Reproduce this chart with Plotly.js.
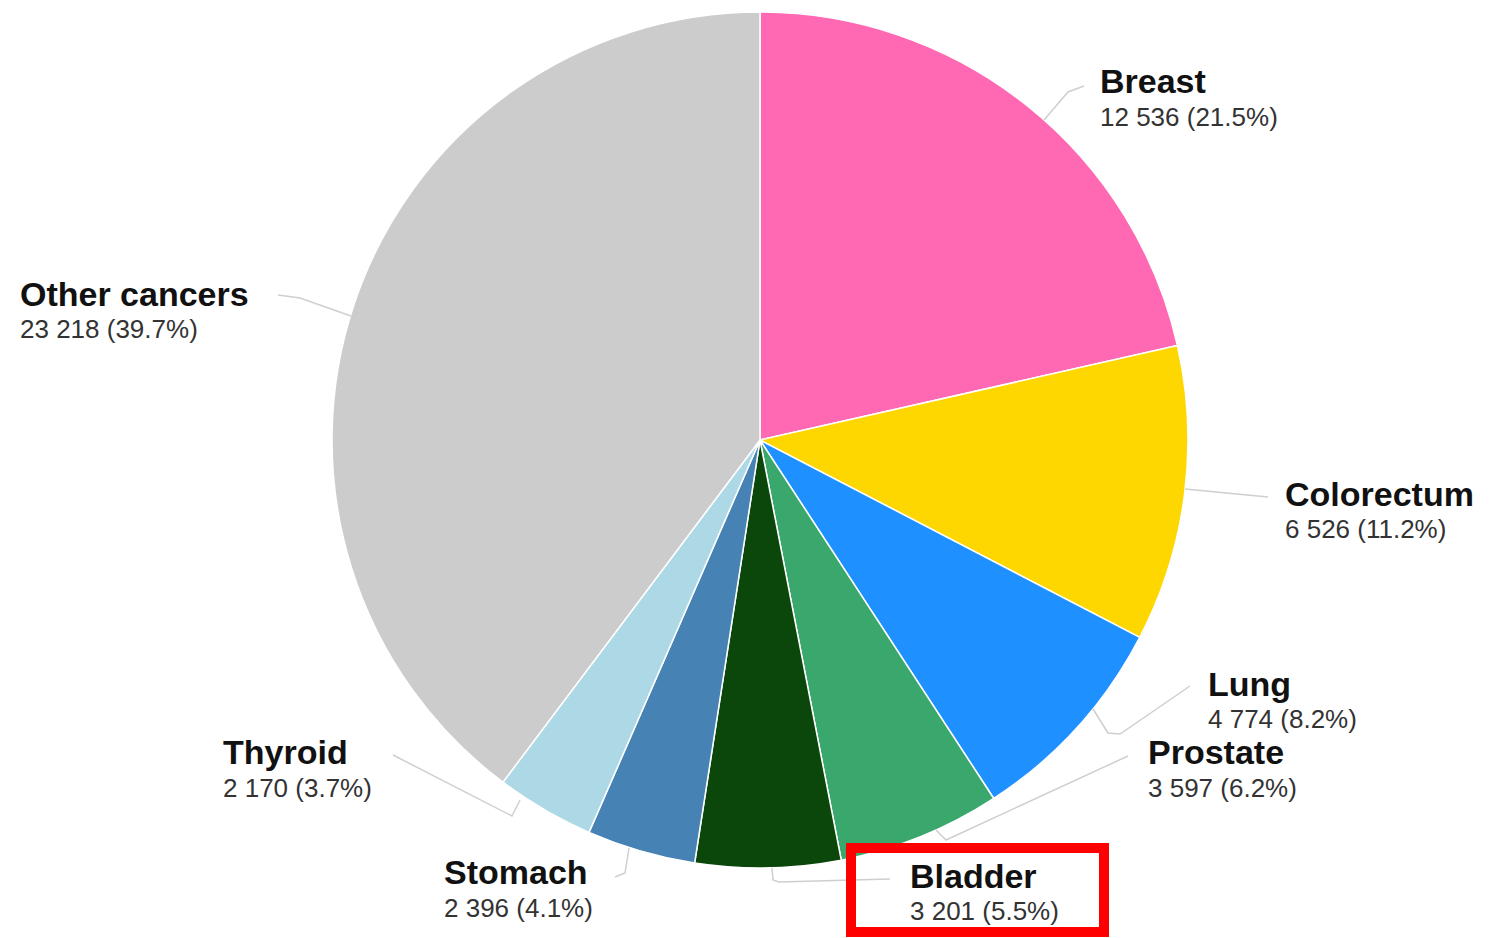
<!DOCTYPE html>
<html>
<head>
<meta charset="utf-8">
<script src="https://cdn.plot.ly/plotly-3.0.1.min.js"></script>
<style>html,body{margin:0;padding:0;background:#fff;}#chart{width:1491px;height:938px;}</style>
</head>
<body>
<div id="chart"></div>
<script>
const categories = ["Breast", "Colorectum", "Lung", "Prostate", "Bladder", "Stomach", "Thyroid", "Other cancers"];
const cases = [12536, 6526, 4774, 3597, 3201, 2396, 2170, 23218];
const valueLabels = ["12 536 (21.5%)", "6 526 (11.2%)", "4 774 (8.2%)", "3 597 (6.2%)", "3 201 (5.5%)", "2 396 (4.1%)", "2 170 (3.7%)", "23 218 (39.7%)"];
const colors = ["#FF69B4", "#FFD700", "#1E90FF", "#3AA76D", "#0B470B", "#4682B4", "#ADD8E6", "#CCCCCC"];

const W = 1491, H = 938;
const px = x => x / W;
const py = y => 1 - y / H;

// label anchor positions (left x, name centre y, value centre y)
const labelPos = {
  "Breast": [1098, 81, 117],
  "Colorectum": [1283, 494, 529],
  "Lung": [1206, 684, 719],
  "Prostate": [1146, 752, 788],
  "Bladder": [908, 876, 911],
  "Stomach": [442, 872, 908],
  "Thyroid": [221, 752, 788],
  "Other cancers": [18, 294, 329]
};
const leaders = [
  [[1044,120],[1068,92],[1084,86]],
  [[351,316],[300,298],[278,295]],
  [[1185,489],[1268,497]],
  [[1093,709],[1108,733],[1120,734],[1190,686]],
  [[936,830],[946,840],[1128,756]],
  [[772,868],[773,880],[779,882],[890,879]],
  [[629,848],[625,873],[615,877]],
  [[393,755],[512,816],[520,800]]
];

const cx = 760, cy = 440, r = 428;
const trace = {
  type: "pie",
  labels: categories,
  values: cases,
  sort: false,
  direction: "clockwise",
  rotation: 0,
  textinfo: "none",
  hoverinfo: "label+value+percent",
  marker: {colors: colors, line: {color: "#ffffff", width: 1.5}},
  domain: {x: [px(cx - r), px(cx + r)], y: [py(cy + r), py(cy - r)]},
  showlegend: false
};

const annotations = [];
categories.forEach((c, i) => {
  const p = labelPos[c];
  annotations.push({xref: "paper", yref: "paper", x: px(p[0]), y: py(p[1]), xanchor: "left", yanchor: "middle",
    text: "<b>" + c + "</b>", showarrow: false, font: {family: "Liberation Sans, Arial, sans-serif", size: 34, color: "#111111"}});
  annotations.push({xref: "paper", yref: "paper", x: px(p[0]), y: py(p[2]), xanchor: "left", yanchor: "middle",
    text: valueLabels[i], showarrow: false, font: {family: "Liberation Sans, Arial, sans-serif", size: 26, color: "#333333"}});
});

const shapes = leaders.map(pts => ({
  type: "path", xref: "paper", yref: "paper",
  path: pts.map((q, k) => (k ? "L" : "M") + px(q[0]) + "," + py(q[1])).join(" "),
  line: {color: "#cfcfcf", width: 1.5}
}));
shapes.push({type: "rect", xref: "paper", yref: "paper", x0: px(851), x1: px(1104), y0: py(932), y1: py(848),
  line: {color: "#FF0000", width: 10}, fillcolor: "rgba(0,0,0,0)"});

Plotly.newPlot("chart", [trace], {
  width: W, height: H,
  margin: {l: 0, r: 0, t: 0, b: 0},
  paper_bgcolor: "#ffffff",
  annotations: annotations,
  shapes: shapes
}, {displayModeBar: false, staticPlot: true});
</script>
</body>
</html>
